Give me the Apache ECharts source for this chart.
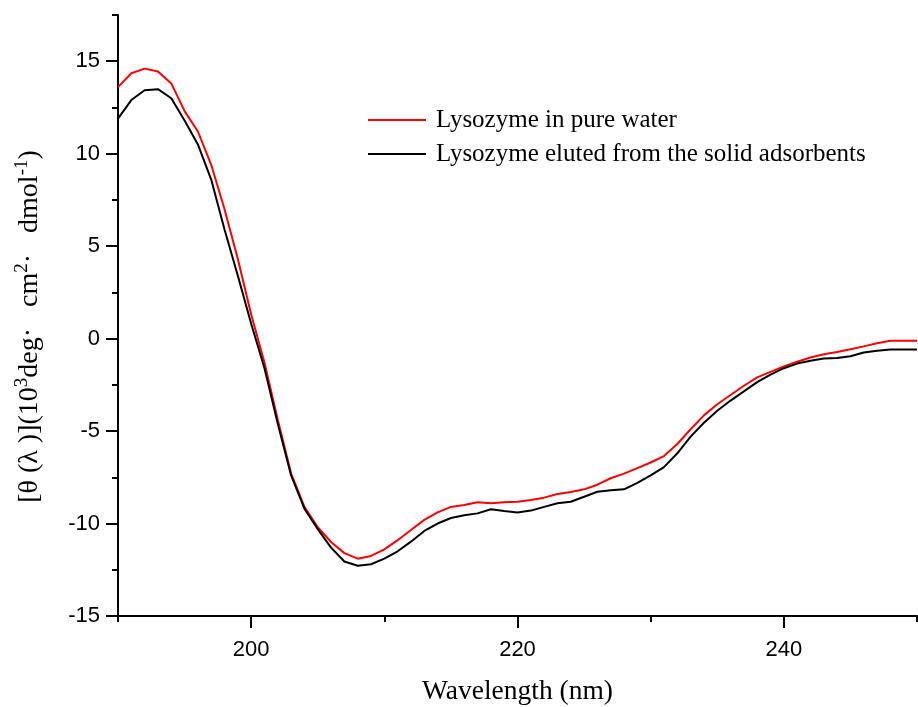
<!DOCTYPE html>
<html>
<head>
<meta charset="utf-8">
<script src="https://cdn.jsdelivr.net/npm/echarts@6/dist/echarts.min.js"></script>
<style>html,body{margin:0;padding:0;background:#fff}#c{width:918px;height:707px}</style>
</head>
<body>
<div id="c"></div>
<script>
const wavelength = [190,191,192,193,194,195,196,197,198,199,200,201,202,203,204,205,206,207,208,209,210,211,212,213,214,215,216,217,218,219,220,221,222,223,224,225,226,227,228,229,230,231,232,233,234,235,236,237,238,239,240,241,242,243,244,245,246,247,248,249,250];
const pureWater = [13.6,14.35,14.6,14.45,13.8,12.3,11.2,9.4,7.0,4.3,1.3,-1.3,-4.4,-7.3,-9.1,-10.2,-11.0,-11.6,-11.9,-11.75,-11.4,-10.9,-10.35,-9.8,-9.4,-9.1,-9.0,-8.85,-8.9,-8.85,-8.82,-8.73,-8.6,-8.4,-8.3,-8.15,-7.9,-7.55,-7.3,-7.0,-6.7,-6.35,-5.7,-4.9,-4.15,-3.55,-3.05,-2.55,-2.1,-1.8,-1.5,-1.25,-1.02,-0.85,-0.72,-0.58,-0.42,-0.25,-0.12,-0.12,-0.12];
const eluted = [11.9,12.9,13.43,13.49,13.0,11.8,10.5,8.6,5.9,3.4,0.8,-1.6,-4.6,-7.4,-9.2,-10.3,-11.3,-12.05,-12.28,-12.2,-11.9,-11.5,-10.98,-10.4,-10.0,-9.7,-9.55,-9.45,-9.23,-9.32,-9.4,-9.3,-9.1,-8.9,-8.82,-8.55,-8.28,-8.2,-8.15,-7.8,-7.4,-6.95,-6.2,-5.3,-4.55,-3.9,-3.35,-2.85,-2.35,-1.95,-1.6,-1.35,-1.2,-1.08,-1.05,-0.95,-0.75,-0.65,-0.59,-0.59,-0.59];
const xMajorTicks = [200,220,240];
const xMinorTicks = [190,210,230,250];
const yMajorTicks = [-15,-10,-5,0,5,10,15];
const yMinorTicks = [-12.5,-7.5,-2.5,2.5,7.5,12.5,17.5];
const seriesNames = ['Lysozyme in pure water','Lysozyme eluted from the solid adsorbents'];

const chart = echarts.init(document.getElementById('c'), null, {renderer:'canvas'});
const sans = 'Liberation Sans, Arial, sans-serif';
const serif = 'Liberation Serif, Times New Roman, serif';
chart.setOption({
  animation:false,
  backgroundColor:'#fff',
  grid:{left:118,right:1,top:15,bottom:91,containLabel:false,outerBoundsMode:'none'},
  legend:{
    orient:'vertical', left:363, top:100,
    icon:'rect', itemWidth:58, itemHeight:2, itemGap:4,
    textStyle:{fontFamily:serif,fontSize:25,color:'#000',lineHeight:30,padding:[0,0,0,5]},
    data:seriesNames
  },
  xAxis:[
    {
      type:'value', min:190, max:250, position:'bottom',
      axisLine:{show:true,onZero:false,lineStyle:{color:'#000',width:2}},
      splitLine:{show:false},
      name:'Wavelength (nm)', nameLocation:'middle', nameGap:62,
      nameTextStyle:{fontFamily:serif,fontSize:27.5,color:'#000'},
      axisTick:{show:true,inside:false,length:12,lineStyle:{color:'#000',width:2},customValues:xMajorTicks},
      axisLabel:{show:true,customValues:xMajorTicks,fontFamily:sans,fontSize:22,color:'#000',margin:23}
    },
    {
      type:'value', min:190, max:250, position:'bottom', offset:0,
      axisLine:{show:false,onZero:false}, splitLine:{show:false}, axisLabel:{show:false},
      axisTick:{show:true,inside:false,length:6,lineStyle:{color:'#000',width:2},customValues:xMinorTicks}
    }
  ],
  yAxis:[
    {
      type:'value', min:-15, max:17.5, position:'left',
      axisLine:{show:true,onZero:false,lineStyle:{color:'#000',width:2}},
      splitLine:{show:false},
      name:'[θ (λ )](10{sup|3}deg·   cm{sup|2}·   dmol{sup|-1})',
      nameLocation:'middle', nameGap:72, nameRotate:90,
      nameTextStyle:{fontFamily:serif,fontSize:28,color:'#000',padding:[0,22,0,0],
        rich:{sup:{fontFamily:serif,fontSize:19,color:'#000',verticalAlign:'top',lineHeight:33}}},
      axisTick:{show:true,inside:false,length:12,lineStyle:{color:'#000',width:2},customValues:yMajorTicks},
      axisLabel:{show:true,customValues:yMajorTicks,fontFamily:sans,fontSize:22,color:'#000',margin:18}
    },
    {
      type:'value', min:-15, max:17.5, position:'left', offset:0,
      axisLine:{show:false,onZero:false}, splitLine:{show:false}, axisLabel:{show:false},
      axisTick:{show:true,inside:false,length:6,lineStyle:{color:'#000',width:2},customValues:yMinorTicks}
    }
  ],
  series:[
    {name:seriesNames[0],type:'line',symbol:'none',xAxisIndex:0,yAxisIndex:0,
     lineStyle:{color:'#ff0000',width:2},itemStyle:{color:'#ff0000'},
     data:wavelength.map((w,i)=>[w,pureWater[i]])},
    {name:seriesNames[1],type:'line',symbol:'none',xAxisIndex:0,yAxisIndex:0,
     lineStyle:{color:'#000000',width:2},itemStyle:{color:'#000000'},
     data:wavelength.map((w,i)=>[w,eluted[i]])}
  ]
});
</script>
</body>
</html>
